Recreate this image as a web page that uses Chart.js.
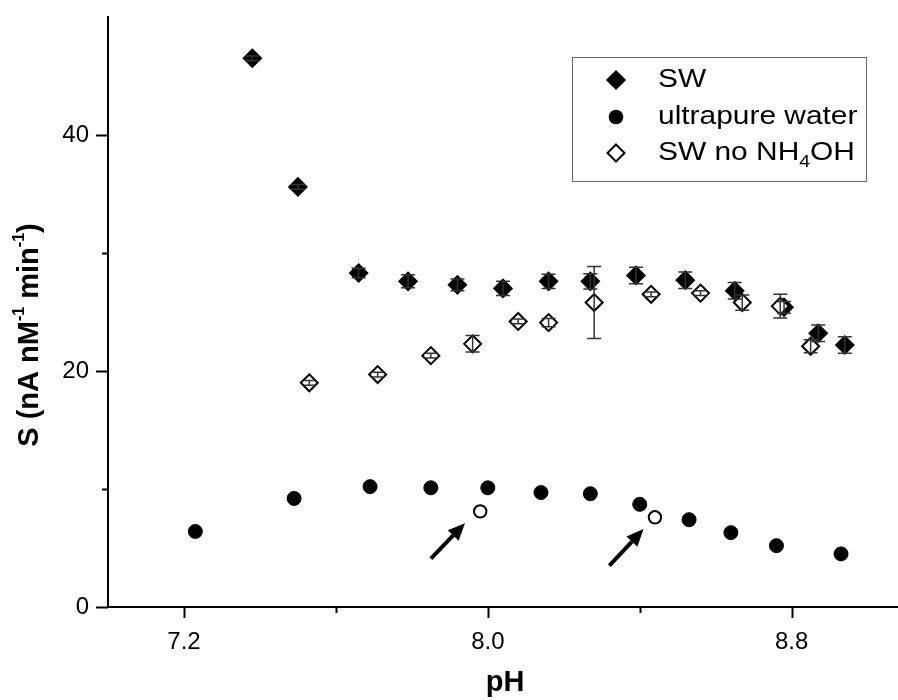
<!DOCTYPE html>
<html>
<head>
<meta charset="utf-8">
<script src="https://cdn.jsdelivr.net/npm/chart.js@4.4.1/dist/chart.umd.min.js"></script>
<style>
  html, body { margin: 0; padding: 0; background: #fff; }
  #wrap { width: 898px; height: 700px; position: relative; }
</style>
</head>
<body>
<div id="wrap"><canvas id="c" width="898" height="700"></canvas></div>
<script>
// Sensitivity S vs pH
const swPH   = [7.38, 7.50, 7.66, 7.79, 7.92, 8.04, 8.16, 8.27, 8.39, 8.52, 8.65, 8.78, 8.87, 8.94];
const swS    = [46.5, 35.6, 28.3, 27.6, 27.3, 27.0, 27.6, 27.6, 28.1, 27.7, 26.8, 25.4, 23.2, 22.2];
const swErr  = [0.2, 0.2, 0.4, 0.55, 0.5, 0.6, 0.6, 0.65, 0.7, 0.7, 0.7, 0.5, 0.7, 0.7];

const upPH   = [7.23, 7.49, 7.69, 7.85, 8.00, 8.14, 8.27, 8.40, 8.53, 8.64, 8.76, 8.93];
const upS    = [6.4, 9.2, 10.2, 10.1, 10.1, 9.7, 9.6, 8.7, 7.4, 6.3, 5.2, 4.5];

// ultrapure water, flagged runs (open circles)
const upFlagPH = [7.98, 8.44];
const upFlagS  = [8.1, 7.6];

const noNhPH  = [7.53, 7.71, 7.85, 7.96, 8.08, 8.16, 8.28, 8.43, 8.56, 8.67, 8.77, 8.85];
const noNhS   = [19.0, 19.7, 21.3, 22.3, 24.2, 24.1, 25.8, 26.5, 26.6, 25.8, 25.5, 22.1];
const noNhErr = [0.2, 0.2, 0.2, 0.7, 0.2, 0.35, 3.05, 0.2, 0.2, 0.65, 1.0, 0.55];

// arrows pointing at the flagged runs: [pH, S] tail and head
const arrowTail = [[7.85, 4.1], [8.32, 3.5]];
const arrowHead = [[7.94, 7.1], [8.41, 6.6]];

const xTicks = [7.2, 7.6, 8.0, 8.4, 8.8];
const xTickLabels = ['7.2', '', '8.0', '', '8.8'];
const yTicks = [0, 10, 20, 30, 40];
const yTickLabels = ['0', '', '20', '', '40'];

const legendItems = [
  { text: 'SW', shape: 'diamondFilled' },
  { text: 'ultrapure water', shape: 'circleFilled' },
  { text: 'SW no NH|4|OH', shape: 'diamondOpen' }
];

const FONT = "'Liberation Sans', Arial, sans-serif";

function pts(xs, ys) { return xs.map((x, i) => ({ x: x, y: ys[i] })); }

// vertical error bars with caps
const errorBars = {
  id: 'errorBars',
  afterDatasetsDraw(chart) {
    const ctx = chart.ctx;
    const xs = chart.scales.x, ys = chart.scales.y;
    const sets = [[swPH, swS, swErr], [noNhPH, noNhS, noNhErr]];
    ctx.save();
    ctx.strokeStyle = '#333';
    ctx.lineWidth = 1.5;
    sets.forEach(([px, sv, ev]) => {
      px.forEach((p, i) => {
        const x = xs.getPixelForValue(p);
        const y1 = ys.getPixelForValue(sv[i] + ev[i]);
        const y2 = ys.getPixelForValue(sv[i] - ev[i]);
        ctx.beginPath();
        ctx.moveTo(x, y1); ctx.lineTo(x, y2);
        ctx.moveTo(x - 7, y1); ctx.lineTo(x + 7, y1);
        ctx.moveTo(x - 7, y2); ctx.lineTo(x + 7, y2);
        ctx.stroke();
      });
    });
    ctx.restore();
  }
};

function drawDiamond(ctx, x, y, r, filled) {
  ctx.beginPath();
  ctx.moveTo(x, y - r); ctx.lineTo(x + r, y); ctx.lineTo(x, y + r); ctx.lineTo(x - r, y); ctx.closePath();
  if (filled) { ctx.fillStyle = '#000'; ctx.fill(); ctx.lineWidth = 1.5; ctx.strokeStyle = '#000'; ctx.stroke(); }
  else { ctx.fillStyle = '#fff'; ctx.fill(); ctx.lineWidth = 2; ctx.strokeStyle = '#000'; ctx.stroke(); }
}

// tick marks (major longer than minor), arrows, legend and axis titles
const decorations = {
  id: 'decorations',
  afterDraw(chart) {
    const ctx = chart.ctx;
    const xs = chart.scales.x, ys = chart.scales.y;
    const area = chart.chartArea;
    ctx.save();
    ctx.strokeStyle = '#000';
    ctx.lineWidth = 2;
    xTicks.forEach((v, i) => {
      const x = Math.round(xs.getPixelForValue(v)) + 0.5;
      const len = xTickLabels[i] ? 11 : 6;
      ctx.beginPath(); ctx.moveTo(x, area.bottom); ctx.lineTo(x, area.bottom + len); ctx.stroke();
    });
    yTicks.forEach((v, i) => {
      const y = Math.round(ys.getPixelForValue(v)) + 0.5;
      const len = yTickLabels[i] ? 12 : 6;
      ctx.beginPath(); ctx.moveTo(area.left, y); ctx.lineTo(area.left - len, y); ctx.stroke();
    });

    // arrows
    ctx.fillStyle = '#000';
    ctx.strokeStyle = '#000';
    arrowTail.forEach((t, i) => {
      const x0 = xs.getPixelForValue(t[0]), y0 = ys.getPixelForValue(t[1]);
      const x1 = xs.getPixelForValue(arrowHead[i][0]), y1 = ys.getPixelForValue(arrowHead[i][1]);
      const ang = Math.atan2(y1 - y0, x1 - x0);
      const hl = 17, hw = 7.5;
      const bx = x1 - hl * Math.cos(ang), by = y1 - hl * Math.sin(ang);
      ctx.lineWidth = 4;
      ctx.beginPath(); ctx.moveTo(x0, y0); ctx.lineTo(bx, by); ctx.stroke();
      ctx.beginPath();
      ctx.moveTo(x1, y1);
      ctx.lineTo(bx + hw * Math.sin(ang), by - hw * Math.cos(ang));
      ctx.lineTo(bx - hw * Math.sin(ang), by + hw * Math.cos(ang));
      ctx.closePath(); ctx.fill();
    });

    // legend
    ctx.lineWidth = 1;
    ctx.strokeStyle = '#666';
    ctx.strokeRect(572.5, 57.5, 294, 124);
    const rows = [80, 117, 153];
    legendItems.forEach((it, i) => {
      const y = rows[i], mx = 616;
      if (it.shape === 'diamondFilled') drawDiamond(ctx, mx, y, 9, true);
      else if (it.shape === 'diamondOpen') drawDiamond(ctx, mx, y, 8.5, false);
      else { ctx.beginPath(); ctx.arc(mx, y, 7.3, 0, Math.PI * 2); ctx.fillStyle = '#000'; ctx.fill(); }
      ctx.save();
      ctx.translate(658, y);
      ctx.scale(1.15, 1);
      ctx.fillStyle = '#000';
      ctx.textBaseline = 'middle';
      ctx.textAlign = 'left';
      const parts = it.text.split('|');
      let cx = 0;
      parts.forEach((p, k) => {
        if (k % 2 === 1) {
          ctx.font = '17px ' + FONT;
          ctx.fillText(p, cx, 9);
        } else {
          ctx.font = '26px ' + FONT;
          ctx.fillText(p, cx, 0);
        }
        cx += ctx.measureText(p).width;
      });
      ctx.restore();
    });

    // x title
    ctx.fillStyle = '#000';
    ctx.font = 'bold 29px ' + FONT;
    ctx.textAlign = 'center';
    ctx.textBaseline = 'middle';
    ctx.fillText('pH', 505, 683);

    // y title with superscripts
    const segs = [['S (nA nM', 0], ['-1', 1], [' min', 0], ['-1', 1], [')', 0]];
    const fBig = 'bold 29px ' + FONT, fSmall = 'bold 16px ' + FONT;
    let total = 0;
    segs.forEach(s => { ctx.font = s[1] ? fSmall : fBig; total += ctx.measureText(s[0]).width; });
    ctx.save();
    ctx.translate(30, 335);
    ctx.rotate(-Math.PI / 2);
    ctx.textAlign = 'left';
    let cx = -total / 2;
    segs.forEach(s => {
      ctx.font = s[1] ? fSmall : fBig;
      ctx.fillText(s[0], cx, s[1] ? -10 : 0);
      cx += ctx.measureText(s[0]).width;
    });
    ctx.restore();
    ctx.restore();
  }
};

new Chart(document.getElementById('c'), {
  type: 'scatter',
  data: {
    datasets: [
      {
        label: 'SW no NH4OH',
        data: pts(noNhPH, noNhS),
        pointStyle: 'rectRot', pointRadius: 8.5,
        backgroundColor: '#fff', borderColor: '#000', borderWidth: 2,
        order: 1
      },
      {
        label: 'SW',
        data: pts(swPH, swS),
        pointStyle: 'rectRot', pointRadius: 9,
        backgroundColor: '#000', borderColor: '#000', borderWidth: 1.5,
        order: 2
      },
      {
        label: 'ultrapure water',
        data: pts(upPH, upS),
        pointStyle: 'circle', pointRadius: 7,
        backgroundColor: '#000', borderColor: '#000', borderWidth: 1,
        order: 3
      },
      {
        label: 'ultrapure water (flagged)',
        data: pts(upFlagPH, upFlagS),
        pointStyle: 'circle', pointRadius: 6.2,
        backgroundColor: '#fff', borderColor: '#000', borderWidth: 2,
        order: 4
      }
    ]
  },
  options: {
    responsive: false,
    animation: false,
    clip: false,
    layout: { autoPadding: false, padding: { top: 17, right: 0, left: 0, bottom: 0 } },
    plugins: { legend: { display: false }, tooltip: { enabled: false } },
    scales: {
      x: {
        type: 'linear', min: 7.0, max: 9.08,
        afterBuildTicks: s => { s.ticks = xTicks.map(v => ({ value: v })); },
        afterFit: s => { s.height = 93; s.paddingLeft = 0; s.paddingRight = 0; },
        grid: { display: false, drawTicks: false },
        border: { display: true, color: '#000', width: 2 },
        ticks: {
          autoSkip: false, maxRotation: 0, padding: 21,
          color: '#000', font: { family: FONT, size: 24 },
          callback: (v, i) => xTickLabels[i]
        }
      },
      y: {
        type: 'linear', min: 0, max: 50,
        afterBuildTicks: s => { s.ticks = yTicks.map(v => ({ value: v })); },
        afterFit: s => { s.width = 108; s.paddingTop = 0; s.paddingBottom = 0; },
        grid: { display: false, drawTicks: false },
        border: { display: true, color: '#000', width: 2 },
        ticks: {
          autoSkip: false, padding: 19,
          color: '#000', font: { family: FONT, size: 24 },
          callback: (v, i) => yTickLabels[i]
        }
      }
    }
  },
  plugins: [errorBars, decorations]
});
</script>
</body>
</html>
